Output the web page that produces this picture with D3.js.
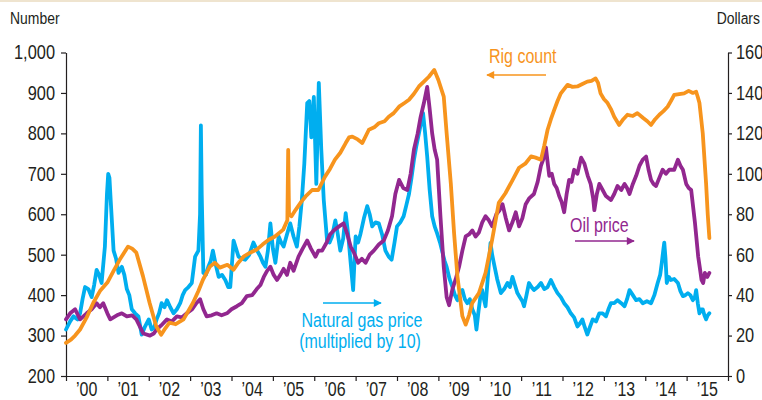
<!DOCTYPE html>
<html>
<head>
<meta charset="utf-8">
<script src="https://cdn.jsdelivr.net/npm/d3@7"></script>
<style>
  body { margin: 0; background: #fff; }
  svg text { font-family: "Liberation Sans", Arial, sans-serif; fill: #231f20; }
  .axis path, .axis line { stroke: #231f20; stroke-width: 1.2; }
</style>
</head>
<body>
<svg class="chart" width="762" height="400"></svg>
<script>
// rig count (left axis, number)
var rigYears = [2000.00, 2000.12, 2000.22, 2000.34, 2000.50, 2000.66, 2000.82, 2001.00, 2001.15, 2001.30, 2001.50, 2001.60, 2001.70, 2001.86,
  2002.02, 2002.18, 2002.30, 2002.40, 2002.50, 2002.65, 2002.84, 2003.07, 2003.20, 2003.31, 2003.48, 2003.60, 2003.72, 2003.90,
  2004.05, 2004.15, 2004.30, 2004.45, 2004.60, 2004.75, 2004.90, 2005.05, 2005.25, 2005.35, 2005.37, 2005.39, 2005.45, 2005.55,
  2005.68, 2005.79, 2005.95, 2006.10, 2006.26, 2006.38, 2006.50, 2006.63, 2006.76, 2006.84, 2006.92, 2007.05, 2007.16, 2007.32,
  2007.45, 2007.56, 2007.70, 2007.80, 2007.92, 2008.05, 2008.18, 2008.29, 2008.41, 2008.53, 2008.65, 2008.77, 2008.90, 2009.00,
  2009.13, 2009.20, 2009.30, 2009.38, 2009.46, 2009.58, 2009.66, 2009.74, 2009.82, 2009.98, 2010.14, 2010.30, 2010.46, 2010.62,
  2010.78, 2010.95, 2011.10, 2011.24, 2011.35, 2011.48, 2011.56, 2011.64, 2011.72, 2011.80, 2011.88, 2011.96, 2012.12, 2012.24,
  2012.36, 2012.48, 2012.60, 2012.70, 2012.80, 2012.86, 2012.92, 2013.00, 2013.09, 2013.17, 2013.25, 2013.37, 2013.47, 2013.57,
  2013.70, 2013.81, 2013.95, 2014.05, 2014.14, 2014.24, 2014.34, 2014.44, 2014.54, 2014.62, 2014.70, 2014.82, 2014.94, 2015.05,
  2015.15, 2015.23, 2015.27, 2015.31, 2015.39, 2015.47, 2015.51, 2015.55];
var rigCount = [282, 290, 300, 315, 345, 381, 410, 431, 460, 488, 520, 515, 505, 447,
  381, 323, 302, 318, 332, 328, 340, 381, 410, 438, 471, 480, 468, 475,
  463, 478, 496, 505, 512, 525, 537, 545, 562, 585, 759, 600, 595, 611,
  630, 644, 660, 660, 693, 712, 735, 752, 776, 790, 792, 785, 776, 809,
  815, 825, 830, 841, 850, 866, 875, 883, 898, 916, 928, 940, 957, 932,
  891, 800, 677, 553, 447, 348, 327, 350, 381, 405, 455, 537, 628, 652,
  682, 715, 725, 743, 740, 735, 770, 809, 835, 858, 880, 899, 920, 915,
  916, 922, 928, 930, 936, 925, 899, 885, 875, 860, 841, 821, 835, 846,
  843, 850, 838, 830, 821, 835, 846, 855, 866, 880, 895, 897, 899, 905,
  900, 903, 890, 875, 800, 677, 600, 541];

// oil price (right axis, dollars)
var oilYears = [2000.00, 2000.10, 2000.22, 2000.34, 2000.50, 2000.62, 2000.74, 2000.82, 2000.90, 2001.00, 2001.07, 2001.23, 2001.35, 2001.47,
  2001.60, 2001.70, 2001.87, 2002.03, 2002.12, 2002.19, 2002.30, 2002.44, 2002.56, 2002.68, 2002.80, 2002.92, 2003.05, 2003.15,
  2003.24, 2003.32, 2003.40, 2003.52, 2003.64, 2003.76, 2003.89, 2004.00, 2004.13, 2004.25, 2004.37, 2004.50, 2004.61, 2004.70,
  2004.78, 2004.86, 2004.94, 2005.02, 2005.10, 2005.18, 2005.26, 2005.34, 2005.42, 2005.50, 2005.62, 2005.72, 2005.83, 2005.92,
  2006.03, 2006.10, 2006.19, 2006.30, 2006.38, 2006.47, 2006.60, 2006.71, 2006.80, 2006.88, 2006.96, 2007.06, 2007.15, 2007.24,
  2007.34, 2007.44, 2007.56, 2007.68, 2007.78, 2007.88, 2007.96, 2008.05, 2008.15, 2008.25, 2008.33, 2008.41, 2008.50, 2008.57,
  2008.65, 2008.73, 2008.79, 2008.85, 2008.91, 2008.97, 2009.05, 2009.13, 2009.20, 2009.26, 2009.34, 2009.42, 2009.50, 2009.58,
  2009.66, 2009.74, 2009.82, 2009.90, 2009.98, 2010.06, 2010.14, 2010.22, 2010.30, 2010.40, 2010.48, 2010.55, 2010.63, 2010.71,
  2010.79, 2010.87, 2010.95, 2011.03, 2011.11, 2011.20, 2011.31, 2011.40, 2011.48, 2011.55, 2011.60, 2011.65, 2011.68, 2011.74,
  2011.80, 2011.86, 2011.92, 2011.98, 2012.04, 2012.10, 2012.16, 2012.22, 2012.28, 2012.36, 2012.45, 2012.53, 2012.61, 2012.68,
  2012.74, 2012.77, 2012.83, 2012.89, 2012.97, 2013.05, 2013.17, 2013.25, 2013.33, 2013.42, 2013.50, 2013.56, 2013.62, 2013.70,
  2013.78, 2013.86, 2013.94, 2014.02, 2014.08, 2014.14, 2014.20, 2014.26, 2014.34, 2014.42, 2014.50, 2014.58, 2014.70, 2014.79,
  2014.85, 2014.91, 2014.99, 2015.05, 2015.11, 2015.20, 2015.28, 2015.33, 2015.36, 2015.40, 2015.44, 2015.50, 2015.55];
var oilPrice = [28, 31, 33, 28, 31, 33, 36, 34, 36, 31, 28, 30, 31, 29.5,
  30, 28, 21, 20, 21, 23, 25, 28, 27, 29.5, 29, 31, 33, 36,
  38, 33, 29.5, 30, 31, 30, 31, 33, 34.5, 36, 39.5, 40, 43, 45,
  49, 52, 54, 50, 47.5, 50, 53, 50, 56, 52, 59, 63, 67, 63,
  59, 62, 62, 66, 70, 72, 74, 75.5, 70, 64, 61, 56, 58, 56,
  60, 62, 65, 67, 72, 79, 90, 97, 93, 92, 100, 112, 120, 128,
  135, 143, 132, 120, 112, 107, 79, 54, 39, 35, 43, 48, 54, 62,
  69, 70, 72, 69, 71, 76, 79, 77, 74, 80, 82, 85, 78, 72,
  76, 81, 74, 78, 85, 88, 90, 96, 104, 108, 113, 104, 99, 100,
  95, 93, 89, 86, 81, 90, 97, 96, 102, 100, 108, 105, 99, 95,
  88, 82, 90, 95, 92, 89, 87, 90, 94, 92, 95, 93, 90, 95,
  99, 104, 107, 108.5, 102, 97, 95, 94, 98, 102, 100, 102, 102, 107,
  104, 102, 95, 93, 92, 76, 59, 52, 47.5, 46, 51, 49, 51];

// natural gas price x10 (right axis)
var gasYears = [2000.00, 2000.10, 2000.18, 2000.28, 2000.34, 2000.40, 2000.46, 2000.54, 2000.62, 2000.68, 2000.74, 2000.80, 2000.86, 2000.94,
  2000.99, 2001.02, 2001.05, 2001.08, 2001.15, 2001.21, 2001.27, 2001.35, 2001.41, 2001.47, 2001.53, 2001.59, 2001.67, 2001.75,
  2001.83, 2001.90, 2001.95, 2002.00, 2002.07, 2002.13, 2002.19, 2002.25, 2002.31, 2002.38, 2002.44, 2002.52, 2002.60, 2002.68,
  2002.76, 2002.82, 2002.88, 2002.96, 2003.04, 2003.12, 2003.20, 2003.24, 2003.26, 2003.28, 2003.32, 2003.38, 2003.44, 2003.50,
  2003.55, 2003.62, 2003.69, 2003.77, 2003.85, 2003.92, 2003.97, 2004.02, 2004.05, 2004.11, 2004.17, 2004.25, 2004.33, 2004.43,
  2004.53, 2004.62, 2004.70, 2004.76, 2004.82, 2004.88, 2004.94, 2005.00, 2005.06, 2005.14, 2005.20, 2005.26, 2005.34, 2005.42,
  2005.50, 2005.58, 2005.64, 2005.70, 2005.76, 2005.83, 2005.88, 2005.93, 2005.99, 2006.05, 2006.11, 2006.17, 2006.23, 2006.31,
  2006.37, 2006.43, 2006.51, 2006.57, 2006.63, 2006.70, 2006.76, 2006.82, 2006.88, 2006.94, 2007.00, 2007.06, 2007.12, 2007.20,
  2007.28, 2007.34, 2007.40, 2007.48, 2007.56, 2007.64, 2007.72, 2007.80, 2007.87, 2007.94, 2008.00, 2008.08, 2008.16, 2008.22,
  2008.29, 2008.35, 2008.41, 2008.47, 2008.53, 2008.58, 2008.63, 2008.68, 2008.73, 2008.79, 2008.85, 2008.91, 2008.97, 2009.04,
  2009.10, 2009.15, 2009.20, 2009.27, 2009.34, 2009.40, 2009.46, 2009.52, 2009.58, 2009.64, 2009.70, 2009.76, 2009.82, 2009.88,
  2009.92, 2009.97, 2010.02, 2010.06, 2010.10, 2010.14, 2010.20, 2010.26, 2010.30, 2010.34, 2010.42, 2010.51, 2010.59, 2010.67,
  2010.73, 2010.79, 2010.85, 2010.91, 2010.97, 2011.03, 2011.07, 2011.13, 2011.19, 2011.25, 2011.31, 2011.40, 2011.48, 2011.56,
  2011.64, 2011.72, 2011.80, 2011.88, 2011.96, 2012.04, 2012.12, 2012.20, 2012.28, 2012.36, 2012.42, 2012.48, 2012.54, 2012.60,
  2012.66, 2012.73, 2012.81, 2012.89, 2012.97, 2013.05, 2013.11, 2013.17, 2013.25, 2013.33, 2013.42, 2013.50, 2013.56, 2013.62,
  2013.70, 2013.78, 2013.86, 2013.94, 2014.04, 2014.14, 2014.22, 2014.30, 2014.36, 2014.40, 2014.44, 2014.46, 2014.49, 2014.52,
  2014.57, 2014.62, 2014.70, 2014.79, 2014.85, 2014.91, 2014.97, 2015.03, 2015.09, 2015.15, 2015.20, 2015.23, 2015.27, 2015.31,
  2015.35, 2015.39, 2015.43, 2015.47, 2015.51, 2015.55];
var gasPrice = [23, 27, 29.5, 28, 31, 38, 44, 43, 39, 45, 52.5, 50, 46, 64,
  90, 100, 98, 87, 62, 58, 51, 54, 50, 43, 40, 33, 31, 29.5,
  20.5, 24, 26, 28, 23, 24, 28, 31, 36, 34, 37.5, 34, 31, 33,
  36, 40, 42.5, 44, 46, 59, 62, 80, 124, 90, 51, 50, 54, 57,
  62, 55, 49, 50, 47.5, 44, 44, 58, 67, 63, 59, 58, 57.5, 60,
  66, 62, 59, 56, 54, 62, 75.5, 63, 56, 69, 66, 64, 70, 75.5,
  69, 64, 74, 87, 105, 135, 136, 118, 138, 95, 145, 112, 87, 67,
  66, 69, 77, 70, 62, 68, 80.5, 70, 56, 42.5, 69, 66, 70.5, 78,
  84, 80, 74, 76, 75.5, 70, 62, 59, 57.5, 66, 74, 76, 79, 84,
  90, 98, 107, 114, 120, 125, 130, 120, 108.5, 92, 79, 74, 70.5, 66,
  61, 57, 54, 48, 44, 40, 37.5, 41, 42.5, 38, 36, 38, 33, 30,
  23, 32, 40, 42.5, 38, 34.5, 50, 65.8, 60, 56, 48, 41, 43, 46,
  44, 49, 45, 41, 39, 37, 34.5, 40, 46, 44, 42.5, 44, 46, 43,
  44, 47.5, 44, 41, 39, 36, 34, 31, 29, 24.5, 26, 28, 24, 20.5,
  24, 28, 27, 31, 31, 29.5, 33, 36, 36, 37.5, 36, 34.5, 38, 42.5,
  40, 37.5, 38, 36, 37, 36, 40, 46, 50, 56, 63, 66, 58, 46,
  49, 47.5, 48, 46, 42, 39.5, 40, 41, 40, 37.5, 39, 42.5, 36, 31,
  33, 33, 30, 28, 30, 31];

var leftTicks = [200, 300, 400, 500, 600, 700, 800, 900, 1000];
var rightTicks = [0, 20, 40, 60, 80, 100, 120, 140, 160];
var yearTicks = d3.range(2000, 2017);
var yearLabels = d3.range(2000, 2016);

var orange = "#f7941d", blue = "#00aeef", purple = "#92278f";
var narrow = 0.82;

var svg = d3.select(".chart");
var x = d3.scaleLinear().domain([2000, 2016]).range([66, 728]);
var yL = d3.scaleLinear().domain([200, 1000]).range([376, 52.5]);
var yR = d3.scaleLinear().domain([0, 160]).range([376, 52.5]);

// no condensed font installed, so squeeze the text horizontally
function squeeze(sel) {
  sel.each(function () {
    var t = d3.select(this);
    var tx = +t.attr("x") || 0;
    t.attr("x", tx / narrow).attr("transform", "scale(" + narrow + ",1)");
  });
}

svg.append("rect").attr("x", 0).attr("y", 0).attr("width", 762).attr("height", 2).attr("fill", "#efe4cf");

svg.append("g").attr("class", "axis").attr("transform", "translate(66,0)")
  .call(d3.axisLeft(yL).tickValues(leftTicks).tickFormat(d3.format(",")).tickSize(5).tickSizeOuter(0).tickPadding(6))
  .selectAll("text").style("font-size", "20px").call(squeeze);

svg.append("g").attr("class", "axis").attr("transform", "translate(728,0)")
  .call(d3.axisRight(yR).tickValues(rightTicks).tickSize(4).tickSizeOuter(0).tickPadding(4))
  .selectAll("text").style("font-size", "20px").call(squeeze);

svg.append("g").attr("class", "axis").attr("transform", "translate(0,376)")
  .call(d3.axisBottom(x).tickValues(yearTicks).tickFormat("").tickSize(5).tickSizeOuter(0));

svg.append("g").selectAll("text").data(yearLabels).enter().append("text")
  .attr("x", function (d) { return x(d + 0.5); })
  .attr("y", 396)
  .attr("text-anchor", "middle")
  .style("font-size", "19.5px")
  .text(function (d) { return "\u2019" + String(d).slice(2); })
  .call(squeeze);

svg.selectAll(".axis .domain").attr("stroke", "#231f20");

svg.append("text").attr("x", 10).attr("y", 24).style("font-size", "17px").text("Number").call(squeeze);
svg.append("text").attr("x", 760).attr("y", 24).attr("text-anchor", "end").style("font-size", "17px").text("Dollars").call(squeeze);

function series(years, values) {
  return years.map(function (d, i) { return [d, values[i]]; });
}

var line = function (y) {
  return d3.line().x(function (d) { return x(d[0]); }).y(function (d) { return y(d[1]); });
};

var lines = [
  { data: series(gasYears, gasPrice), y: yR, color: blue },
  { data: series(oilYears, oilPrice), y: yR, color: purple },
  { data: series(rigYears, rigCount), y: yL, color: orange }
];

svg.append("g").selectAll("path").data(lines).enter().append("path")
  .attr("d", function (d) { return line(d.y)(d.data); })
  .attr("fill", "none")
  .attr("stroke", function (d) { return d.color; })
  .attr("stroke-width", 3.8)
  .attr("stroke-linejoin", "round")
  .attr("stroke-linecap", "round");

// annotations
var defs = svg.append("defs");
[["arrOrange", orange], ["arrBlue", blue], ["arrPurple", purple]].forEach(function (m) {
  defs.append("marker").attr("id", m[0]).attr("viewBox", "0 0 10 10").attr("refX", 9).attr("refY", 5)
    .attr("markerWidth", 10).attr("markerHeight", 8).attr("markerUnits", "userSpaceOnUse").attr("orient", "auto")
    .append("path").attr("d", "M0,0L10,5L0,10Z").attr("fill", m[1]);
});

svg.append("text").attr("x", 489).attr("y", 63).style("font-size", "19.5px").style("fill", orange).text("Rig count").call(squeeze);
svg.append("line").attr("x1", 546).attr("y1", 75).attr("x2", 487).attr("y2", 75)
  .attr("stroke", orange).attr("stroke-width", 1.5).attr("marker-end", "url(#arrOrange)");

svg.append("text").attr("x", 570).attr("y", 232).style("font-size", "19.5px").style("fill", purple).text("Oil price").call(squeeze);
svg.append("line").attr("x1", 575).attr("y1", 241).attr("x2", 634).attr("y2", 241)
  .attr("stroke", purple).attr("stroke-width", 1.5).attr("marker-end", "url(#arrPurple)");

svg.append("text").attr("x", 362).attr("y", 327).attr("text-anchor", "middle").style("font-size", "19.5px").style("fill", blue).text("Natural gas price").call(squeeze);
svg.append("text").attr("x", 360).attr("y", 348).attr("text-anchor", "middle").style("font-size", "19.5px").style("fill", blue).text("(multiplied by 10)").call(squeeze);
svg.append("line").attr("x1", 323).attr("y1", 303).attr("x2", 381).attr("y2", 303)
  .attr("stroke", blue).attr("stroke-width", 1.5).attr("marker-end", "url(#arrBlue)");
</script>
</body>
</html>
